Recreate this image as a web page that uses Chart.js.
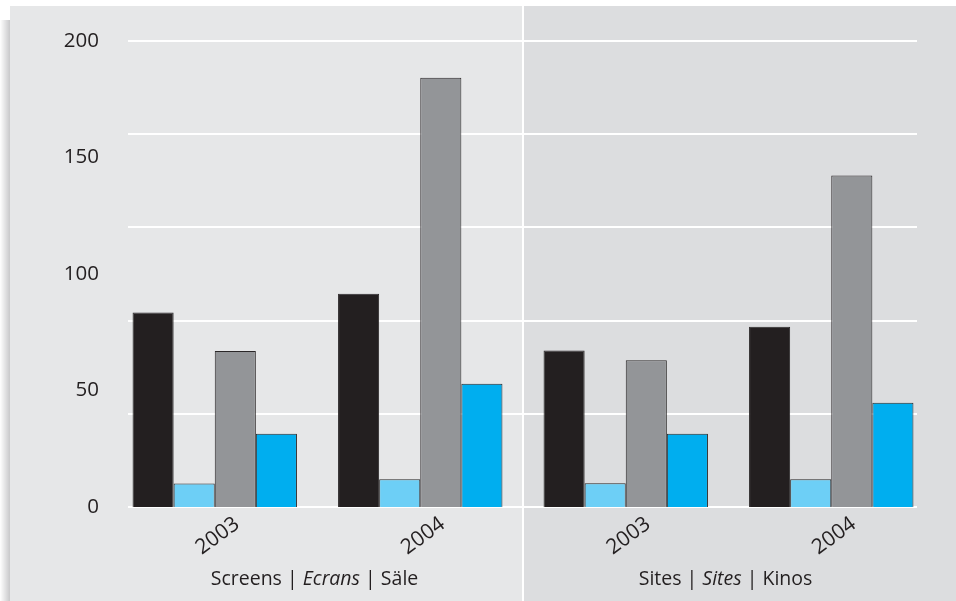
<!DOCTYPE html>
<html>
<head>
<meta charset="utf-8">
<script src="https://cdn.jsdelivr.net/npm/chart.js@4/dist/chart.umd.min.js"></script>
<style>
    html, body { margin: 0; padding: 0; background: #ffffff; }
    #chart { display: block; }
</style>
</head>
<body>
<canvas id="chart" width="956" height="601"></canvas>
<script>
const categories = ['2003', '2004', '2003', '2004'];
const groupTitles = [
    [['Screens | ', 'normal'], ['Ecrans', 'italic'], [' | Säle', 'normal']],
    [['Sites | ', 'normal'], ['Sites', 'italic'], [' | Kinos', 'normal']]
];
const seriesBlack = [83.5, 91.5, 67.2, 77.4];
const seriesLightBlue = [10.1, 11.9, 10.2, 11.9];
const seriesGray = [67.0, 184.2, 63.0, 142.3];
const seriesBlue = [31.4, 52.9, 31.4, 44.7];
const yTicks = [0, 50, 100, 150, 200];
const gridValues = [0, 40, 80, 120, 160, 200];

const FONT = '"Open Sans", "DejaVu Sans", sans-serif';
const TEXT = '#231f20';

const panelPlugin = {
    id: 'panels',
    beforeDraw(chart) {
        const ctx = chart.ctx;
        const x = chart.scales.x;
        const split = (x.getPixelForValue(1) + x.getPixelForValue(2)) / 2;
        ctx.save();
        ctx.fillStyle = '#ffffff';
        ctx.fillRect(0, 0, chart.width, chart.height);

        const shade = ctx.createLinearGradient(0, 0, 10, 0);
        shade.addColorStop(0, 'rgba(200,200,202,0)');
        shade.addColorStop(1, 'rgba(200,200,202,1)');
        ctx.fillStyle = shade;
        ctx.fillRect(0, 20, 10, chart.height - 20);

        ctx.fillStyle = '#e6e7e8';
        ctx.fillRect(10, 6, split - 10, chart.height - 6);
        ctx.fillStyle = '#dcdddf';
        ctx.fillRect(split, 6, chart.width - split, chart.height - 6);

        ctx.fillStyle = '#ffffff';
        ctx.fillRect(split - 1, 6, 2, chart.height - 6);
        ctx.restore();
    },
    beforeDatasetsDraw(chart) {
        const ctx = chart.ctx;
        const y = chart.scales.y;
        const area = chart.chartArea;
        ctx.save();
        ctx.strokeStyle = '#ffffff';
        ctx.lineWidth = 2;
        gridValues.forEach(v => {
            const py = Math.round(y.getPixelForValue(v));
            ctx.beginPath();
            ctx.moveTo(area.left + 16, py);
            ctx.lineTo(area.right - 17, py);
            ctx.stroke();
        });
        ctx.restore();
    },
    afterDraw(chart) {
        const ctx = chart.ctx;
        const x = chart.scales.x;
        ctx.save();
        ctx.fillStyle = TEXT;
        ctx.textAlign = 'center';
        ctx.textBaseline = 'middle';
        ctx.font = '21px ' + FONT;
        categories.forEach((label, i) => {
            ctx.save();
            ctx.translate(x.getPixelForTick(i) + 3, 536);
            ctx.rotate(-36 * Math.PI / 180);
            ctx.fillText(label, 0, 0);
            ctx.restore();
        });

        ctx.textAlign = 'left';
        ctx.textBaseline = 'alphabetic';
        groupTitles.forEach((parts, g) => {
            const cx = (x.getPixelForTick(g * 2) + x.getPixelForTick(g * 2 + 1)) / 2;
            let total = 0;
            parts.forEach(p => {
                ctx.font = p[1] + ' 19.5px ' + FONT;
                total += ctx.measureText(p[0]).width;
            });
            let px = cx - total / 2 - 3;
            parts.forEach(p => {
                ctx.font = p[1] + ' 19.5px ' + FONT;
                ctx.fillText(p[0], px, 585);
                px += ctx.measureText(p[0]).width;
            });
        });
        ctx.restore();
    }
};

function barSet(label, data, color) {
    return {
        label: label,
        data: data,
        backgroundColor: color,
        borderColor: '#2a2728',
        borderWidth: 1,
        categoryPercentage: 0.8,
        barPercentage: 1.0
    };
}

const chart = new Chart(document.getElementById('chart').getContext('2d'), {
    type: 'bar',
    data: {
        labels: categories,
        datasets: [
            barSet('Serie 1', seriesBlack, '#231f20'),
            barSet('Serie 2', seriesLightBlue, '#6dcff6'),
            barSet('Serie 3', seriesGray, '#939598'),
            barSet('Serie 4', seriesBlue, '#00aeef')
        ]
    },
    options: {
        responsive: false,
        animation: false,
        devicePixelRatio: 1,
        layout: {
            padding: { left: 0, right: 22, top: 41, bottom: 0 }
        },
        plugins: {
            legend: { display: false },
            tooltip: { enabled: false }
        },
        scales: {
            x: {
                grid: { display: false },
                border: { display: false },
                ticks: { display: false },
                afterFit(scale) { scale.height = 94; }
            },
            y: {
                min: 0,
                max: 200,
                afterBuildTicks(scale) {
                    scale.ticks = yTicks.map(v => ({ value: v }));
                },
                grid: { display: false },
                border: { display: false },
                ticks: {
                    padding: 5,
                    color: TEXT,
                    font: { family: FONT, size: 20.5 }
                },
                afterFit(scale) { scale.width = 112; }
            }
        }
    },
    plugins: [panelPlugin]
});
</script>
</body>
</html>
